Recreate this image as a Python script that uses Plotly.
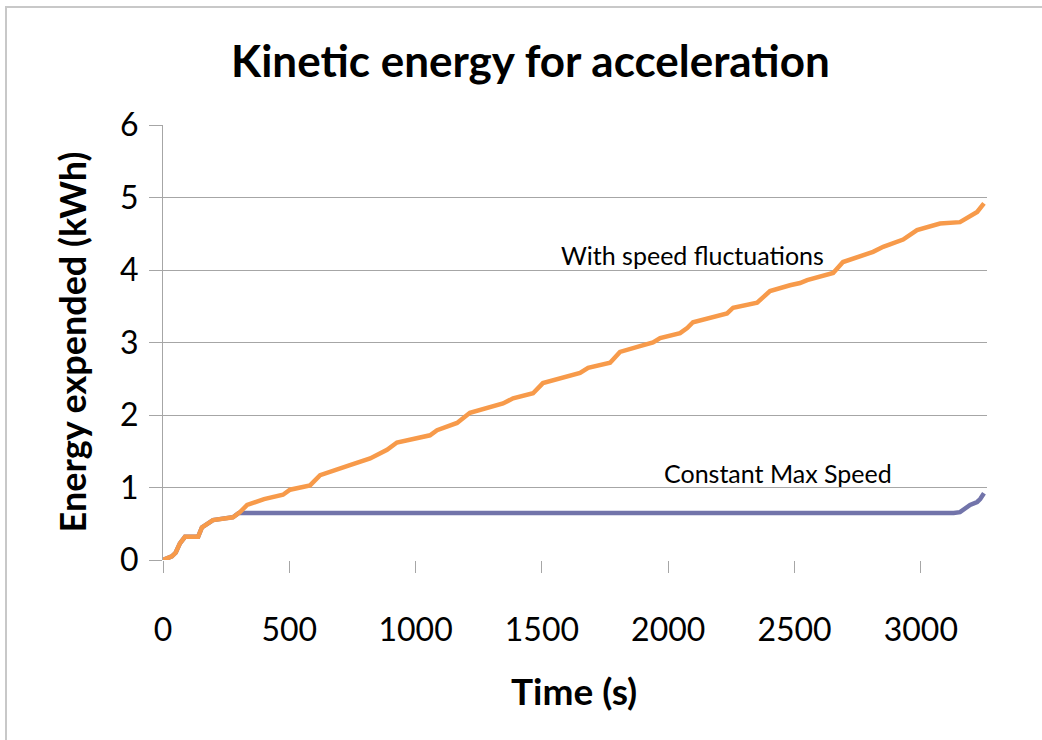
import plotly.graph_objects as go

# Orange series: with speed fluctuations
t_fluct = [0, 35, 50, 67, 87, 139, 154, 198, 277, 305, 333, 400, 475, 503, 582, 622,
           740, 820, 887, 926, 1057, 1085, 1164, 1215, 1346, 1386, 1465, 1504, 1651,
           1683, 1770, 1809, 1888, 1940, 1968, 2047, 2075, 2098, 2233, 2257, 2352,
           2375, 2403, 2482, 2522, 2550, 2653, 2692, 2811, 2851, 2918, 2930, 2985,
           3076, 3155, 3223, 3250]
e_fluct = [0.0, 0.05, 0.10, 0.23, 0.32, 0.32, 0.45, 0.55, 0.59, 0.66, 0.76, 0.84,
           0.90, 0.97, 1.03, 1.17, 1.31, 1.40, 1.52, 1.62, 1.72, 1.79, 1.89, 2.03,
           2.16, 2.23, 2.30, 2.44, 2.58, 2.65, 2.72, 2.87, 2.95, 3.00, 3.06, 3.13,
           3.20, 3.28, 3.40, 3.48, 3.55, 3.63, 3.71, 3.79, 3.82, 3.86, 3.96, 4.11,
           4.25, 4.32, 4.40, 4.42, 4.55, 4.64, 4.66, 4.80, 4.92]

# Blue series: constant max speed
t_const = [0, 35, 50, 67, 87, 139, 154, 198, 277, 300, 3130, 3155, 3195, 3223, 3235, 3250]
e_const = [0.0, 0.05, 0.10, 0.23, 0.32, 0.32, 0.45, 0.55, 0.59, 0.65, 0.65, 0.66,
           0.76, 0.80, 0.84, 0.92]

x_ticks = [0, 500, 1000, 1500, 2000, 2500, 3000]
y_ticks = [0, 1, 2, 3, 4, 5, 6]

title_text = "Kinetic energy for acceleration"
x_title = "Time (s)"
y_title = "Energy expended (kWh)"
label_fluct = "With speed fluctuations"
label_const = "Constant Max Speed"

FONT = "Lato"
GRID = "#A6A6A6"

fig = go.Figure()
fig.add_trace(go.Scatter(x=t_const, y=e_const, mode="lines",
                         line=dict(color="#7274AA", width=4.5), name=label_const,
                         showlegend=False))
fig.add_trace(go.Scatter(x=t_fluct, y=e_fluct, mode="lines",
                         line=dict(color="#F79A4A", width=4.5), name=label_fluct,
                         showlegend=False))

fig.update_layout(
    width=1042, height=740,
    margin=dict(l=163, r=55, t=125, b=180),
    paper_bgcolor="white", plot_bgcolor="white",
    font=dict(family=FONT, color="black"),
    title=dict(text="<b>" + title_text + "</b>", x=0.509, xanchor="center",
               y=1 - 62 / 740, yanchor="middle", yref="container",
               font=dict(family=FONT, size=44, color="black")),
)

fig.update_xaxes(range=[0, 3262], tickvals=x_ticks, ticktext=[str(v) for v in x_ticks],
                 showgrid=False, zeroline=False, showline=False,
                 ticks="outside", ticklen=12, tickcolor=GRID, tickwidth=1,
                 ticklabelstandoff=30,
                 tickfont=dict(family=FONT, size=32, color="black"))
fig.update_yaxes(range=[0, 6], tickvals=y_ticks, ticktext=[str(v) for v in y_ticks],
                 showgrid=True, gridcolor=GRID, gridwidth=1, zeroline=False,
                 showline=True, linecolor=GRID, linewidth=1,
                 ticks="outside", ticklen=13, tickcolor=GRID, tickwidth=1,
                 ticklabelstandoff=4,
                 tickfont=dict(family=FONT, size=32, color="black"))

fig.add_annotation(text="<b>" + y_title + "</b>", xref="paper", yref="paper",
                   x=-0.110, y=0.501, textangle=-90, showarrow=False,
                   xanchor="center", yanchor="middle",
                   font=dict(family=FONT, size=36, color="black"))
fig.add_annotation(text="<b>" + x_title + "</b>", xref="paper", yref="paper",
                   x=0.499, y=-0.299, showarrow=False,
                   xanchor="center", yanchor="middle",
                   font=dict(family=FONT, size=37, color="black"))
fig.add_annotation(text=label_fluct, x=2098, y=4.21, showarrow=False,
                   xanchor="center", yanchor="middle",
                   font=dict(family=FONT, size=25, color="black"))
fig.add_annotation(text=label_const, x=2435, y=1.20, showarrow=False,
                   xanchor="center", yanchor="middle",
                   font=dict(family=FONT, size=25, color="black"))

# chart frame (only top and left edges visible in the reference)
fig.add_shape(type="rect", xref="paper", yref="paper",
              x0=(6 - 163) / 824, x1=1.2, y0=-0.6, y1=(560 - 7) / 435,
              line=dict(color="#C8C8C8", width=2), layer="below")

fig.write_html("out.html")
